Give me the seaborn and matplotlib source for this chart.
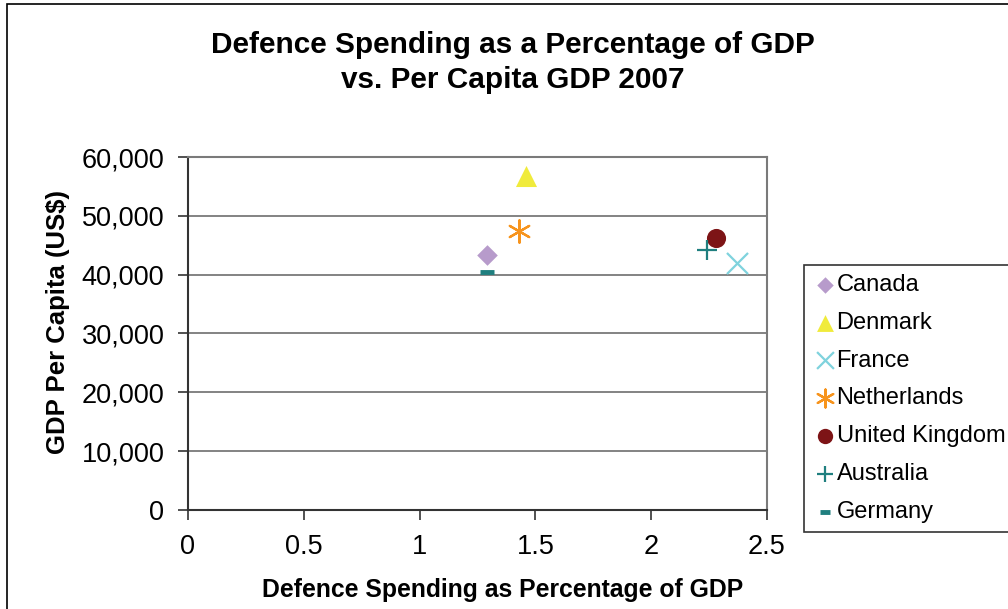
import matplotlib
matplotlib.use("Agg")
import matplotlib.pyplot as plt
import matplotlib.ticker as mticker
from matplotlib.patches import Rectangle
import seaborn as sns
import pandas as pd

# data
countries = ["Canada", "Denmark", "France", "Netherlands", "United Kingdom", "Australia", "Germany"]
defence_pct = [1.29, 1.46, 2.37, 1.43, 2.28, 2.24, 1.29]
gdp_per_capita = [43300, 56800, 42000, 47400, 46300, 44200, 40400]

colors = ["#B79BCB", "#F0EB3C", "#7FD3DD", "#F7941D", "#7D1416", "#1F7F7F", "#1F7F7F"]
markers = ["D", "^", "x", (6, 2, 0), "o", "+", "_"]
sizes = [110, 230, 230, 260, 190, 200, 90]

df = pd.DataFrame({"country": countries, "defence": defence_pct, "gdp": gdp_per_capita})

sns.set_style("white")
plt.rcParams["font.family"] = ["Liberation Sans", "DejaVu Sans"]
plt.rcParams["text.color"] = "black"
plt.rcParams["axes.labelcolor"] = "black"

fig = plt.figure(figsize=(10.08, 6.09), dpi=100)
ax = fig.add_axes([0.1865, 0.1626, 0.5744, 0.5796])

for i, c in enumerate(countries):
    sub = df[df["country"] == c]
    filled = markers[i] in ("D", "^", "o")
    if filled:
        sns.scatterplot(x="defence", y="gdp", data=sub, ax=ax, marker=markers[i],
                        color=colors[i], s=sizes[i], linewidth=0, label=c, zorder=3)
    else:
        sns.scatterplot(x="defence", y="gdp", data=sub, ax=ax, marker=markers[i],
                        color=colors[i], s=sizes[i], linewidth=1.6 if c != "Germany" else 3.5,
                        label=c, zorder=3)

ax.set_xlim(0, 2.5)
ax.set_ylim(0, 60000)
ax.set_xticks([0, 0.5, 1, 1.5, 2, 2.5])
ax.set_xticklabels(["0", "0.5", "1", "1.5", "2", "2.5"])
ax.set_yticks(range(0, 60001, 10000))
ax.yaxis.set_major_formatter(mticker.FuncFormatter(lambda v, p: f"{int(v):,}"))
ax.tick_params(axis="both", labelsize=19.5, colors="#333333", labelcolor="black",
               direction="out", length=7, width=1.2, left=True, bottom=True)
ax.tick_params(axis="x", pad=10)
ax.tick_params(axis="y", pad=10)

ax.grid(axis="y", color="#6e6e6e", linewidth=1.2)
ax.set_axisbelow(True)
for side in ["left", "bottom"]:
    ax.spines[side].set_color("#333333")
    ax.spines[side].set_linewidth(1.5)
for side in ["right", "top"]:
    ax.spines[side].set_color("#7a7a7a")
    ax.spines[side].set_linewidth(1.5)

ax.set_xlabel("")
ax.set_ylabel("")
fig.text(503 / 1008, 1 - 590 / 609, "Defence Spending as Percentage of GDP", ha="center", va="center",
         fontsize=17.8, fontweight="bold")
fig.text(58 / 1008, 1 - 322 / 609, "GDP Per Capita (US$)", ha="center", va="center", rotation=90,
         fontsize=18.5, fontweight="bold")

fig.text(513 / 1008, 1 - 45 / 609, "Defence Spending as a Percentage of GDP", ha="center", va="center",
         fontsize=21.4, fontweight="bold")
fig.text(513 / 1008, 1 - 80 / 609, "vs. Per Capita GDP 2007", ha="center", va="center",
         fontsize=21.4, fontweight="bold")

leg = ax.legend(loc="upper left", bbox_to_anchor=(804 / 1008, 1 - 265 / 609),
                bbox_transform=fig.transFigure, frameon=True, fancybox=False,
                fontsize=17, handletextpad=0.0, handlelength=1.0, labelspacing=0.67,
                borderpad=0.38, borderaxespad=0, markerscale=0.8)
leg.get_frame().set_edgecolor("black")
leg.get_frame().set_linewidth(1.2)

# outer chart border (runs off the right and bottom edges)
fig.patches.append(Rectangle((7 / 1008, -0.1), 1.2, 1 - 3.5 / 609 + 0.1, transform=fig.transFigure,
                             fill=False, edgecolor="black", linewidth=1.2, zorder=0))

fig.savefig("out.png", dpi=100)
